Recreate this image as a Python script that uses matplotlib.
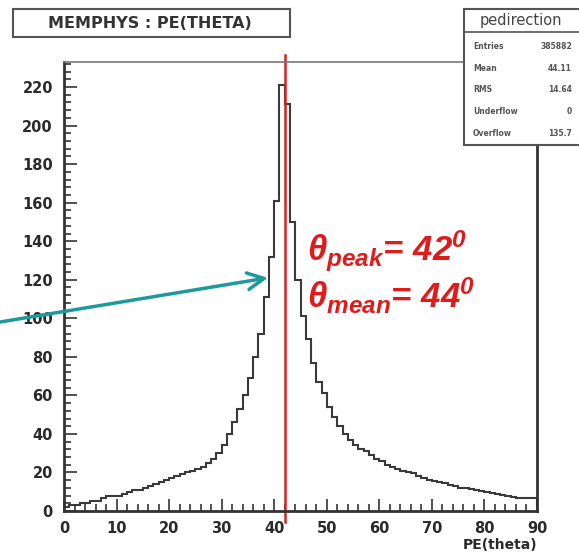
import numpy as np
import matplotlib
matplotlib.use('Agg')
import matplotlib.pyplot as plt
from matplotlib.patches import Rectangle
from matplotlib.ticker import MultipleLocator

W, H = 579, 553

# PE(theta) histogram, one-degree bins from 0 to 90
bin_edges = np.arange(0, 91, 1)
counts = [2, 3, 3, 4, 4, 5, 5, 7, 8, 8,
          8, 9, 10, 11, 11, 12, 13, 14, 15, 16,
          17, 18, 19, 20, 21, 22, 23, 25, 27, 30,
          34, 40, 46, 53, 60, 69, 80, 92, 111, 132,
          161, 221, 211, 150, 120, 101, 89, 77, 67, 61,
          54, 49, 44, 40, 37, 34, 32, 31, 29, 27,
          26, 24, 23, 22, 21, 20, 19.5, 18, 17, 16,
          15.5, 15, 14.5, 13.5, 13, 12, 12, 11.5, 11, 10.5,
          10, 9.5, 9, 8.5, 8, 7.5, 7, 7, 7, 6.5]
peak_angle = 42
mean_angle = 44

x_ticks = list(range(0, 91, 10))
y_ticks = list(range(0, 221, 20))

stats_title = 'pedirection'
stats_labels = ['Entries', 'Mean', 'RMS', 'Underflow', 'Overflow']
stats_values = ['385882', '44.11', '14.64', '0', '135.7']

plt.rcParams['mathtext.fontset'] = 'custom'
plt.rcParams['mathtext.it'] = 'Liberation Sans:italic:bold'
plt.rcParams['mathtext.rm'] = 'Liberation Sans:italic:bold'


def fx(px):
    return px / W


def fy(py):
    return 1 - py / H


fig = plt.figure(figsize=(W / 100, H / 100), dpi=100)
fig.patch.set_facecolor('white')
ax = fig.add_axes([fx(64), fy(511), fx(537) - fx(64), fy(62) - fy(511)])

ax.stairs(counts, bin_edges, color='#3a3a3a', linewidth=1.5)
ax.set_xlim(0, 90)
ax.set_ylim(0, 233)

ax.set_xticks(x_ticks)
ax.set_yticks(y_ticks)
ax.xaxis.set_minor_locator(MultipleLocator(2))
ax.yaxis.set_minor_locator(MultipleLocator(4))
ax.tick_params(which='both', direction='in', color='#333333', width=1.2,
               labelsize=10.5, labelcolor='#2a2a2a')
ax.tick_params(which='major', length=9)
ax.tick_params(which='minor', length=5)
ax.tick_params(axis='x', pad=7)
ax.tick_params(axis='y', pad=8)
for lab in ax.get_xticklabels() + ax.get_yticklabels():
    lab.set_fontweight('bold')
for side in ['left', 'bottom', 'right']:
    ax.spines[side].set_color('#333333')
    ax.spines[side].set_linewidth(2)
ax.spines['top'].set_color('#777777')
ax.spines['top'].set_linewidth(1.2)

ax.set_xlabel('PE(theta)', fontweight='bold', fontsize=10, color='#2a2a2a')
ax.xaxis.set_label_coords(1.0, -0.06)
ax.xaxis.label.set_horizontalalignment('right')

# peak marker
ax.axvline(peak_angle, ymin=-0.025, ymax=1.015, color='#d62222',
           linewidth=1.8, clip_on=False)

# annotation text
txt_kw = dict(color='#e01b1b', fontsize=25, fontfamily='Liberation Sans',
              fontstyle='italic', fontweight='bold', va='baseline')
fig.text(fx(307), fy(261), r'$\theta_{peak}$= %d$^{0}$' % peak_angle, **txt_kw)
fig.text(fx(307), fy(308), r'$\theta_{mean}$= %d$^{0}$' % mean_angle, **txt_kw)

# teal arrow coming from the left edge
ax.annotate('', xy=(38.8, 121), xycoords='data',
            xytext=(0.0, fy(322)), textcoords='figure fraction',
            arrowprops=dict(arrowstyle='->', color='#1f9a9c', lw=2.5,
                            mutation_scale=30, shrinkA=0, shrinkB=0),
            annotation_clip=False)

# title box
fig.patches.append(Rectangle((fx(13), fy(37)), fx(290) - fx(13), fy(9) - fy(37),
                             transform=fig.transFigure, facecolor='white',
                             edgecolor='#555555', linewidth=1.5))
fig.text(fx(150), fy(23), 'MEMPHYS : PE(THETA)', ha='center', va='center',
         fontsize=11.5, fontweight='bold', color='#333333')

# stats box
fig.patches.append(Rectangle((fx(464), fy(145)), fx(590) - fx(464), fy(9) - fy(145),
                             transform=fig.transFigure, facecolor='white',
                             edgecolor='#555555', linewidth=1.5))
fig.lines.append(plt.Line2D([fx(464), fx(579)], [fy(32), fy(32)],
                            transform=fig.transFigure, color='#555555', linewidth=1.2))
fig.text(fx(521), fy(21), stats_title, ha='center', va='center',
         fontsize=10.5, color='#444444')
for i, (lab, val) in enumerate(zip(stats_labels, stats_values)):
    ypix = 47 + i * 21.5
    fig.text(fx(473), fy(ypix), lab, ha='left', va='center', fontsize=5.5,
             fontweight='bold', color='#555555')
    fig.text(fx(572), fy(ypix), val, ha='right', va='center', fontsize=5.5,
             fontweight='bold', color='#555555')

fig.savefig('out.png', dpi=100)
